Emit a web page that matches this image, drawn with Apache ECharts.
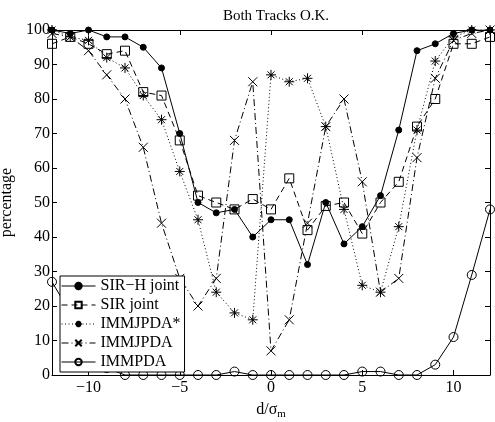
<!DOCTYPE html>
<html>
<head>
<meta charset="utf-8">
<script src="https://cdn.jsdelivr.net/npm/echarts@6/dist/echarts.min.js"></script>
<style>
html,body{margin:0;padding:0;background:#fff;}
#c{width:495px;height:422px;}
</style>
</head>
<body>
<div id="c"></div>
<script>
var xs = [-12,-11,-10,-9,-8,-7,-6,-5,-4,-3,-2,-1,0,1,2,3,4,5,6,7,8,9,10,11,12];
var sirH = [100,99,100,98,98,95,89,70,50,47,48,40,45,45,32,50,38,43,52,71,94,96,99,100,100];
var sirJoint = [96,98,96,93,94,82,81,68,52,50,48,51,48,57,42,49,50,41,50,56,72,80,96,96,98];
var immjpdaStar = [100,98,97,92,89,81,74,59,45,24,18,16,87,85,86,72,48,26,24,43,71,91,98,100,100];
var immjpda = [99,98,94,87,80,66,44,28,20,28,68,85,7,16,44,72,80,56,24,28,63,86,97,99,100];
var immpda = [27,18,7,2,0,0,0,0,0,0,1,0,0,0,0,0,0,1,1,0,0,3,11,29,48];
var xTicks = [-10,-5,0,5,10];
var seriesNames = ['SIR\u2212H joint','SIR joint','IMMJPDA*','IMMJPDA','IMMPDA'];
var titleText = 'Both Tracks O.K.';

function pts(arr){ return xs.map(function(x,i){ return [x, arr[i]]; }); }
var FONT = '"Liberation Serif","DejaVu Serif",serif';
var ASTER = 'path://M0,-5L0,5M-5,0L5,0M-3.5,-3.5L3.5,3.5M-3.5,3.5L3.5,-3.5';
var XMARK = 'path://M-1,-1L1,1M-1,1L1,-1';

function mk(name, data, symbol, size, fill, lineType){
  return {
    name: name, type: 'line', data: pts(data),
    symbol: symbol, symbolSize: size, showAllSymbol: true,
    symbolKeepAspect: true,
    lineStyle: {color:'#000', width:1, type: lineType},
    itemStyle: {color: fill, borderColor:'#000', borderWidth:1},
    emphasis: {disabled:true}
  };
}

var chart = echarts.init(document.getElementById('c'), null, {renderer:'canvas'});
var fmt = function(v){ return v < 0 ? '\u2212' + Math.abs(v) : String(v); };
chart.setOption({
  animation: false,
  backgroundColor: '#fff',
  title: {
    text: titleText, left: 271, top: 4, textAlign: 'center',
    textStyle: {fontFamily: FONT, fontSize: 15, fontWeight: 'normal', color:'#000'}
  },
  grid: {left: 52, right: 5, top: 30, bottom: 47, containLabel: false, outerBoundsMode: 'none'},
  legend: {
    orient: 'vertical', left: 60, top: 276,
    backgroundColor: '#fff', borderColor: '#000', borderWidth: 1,
    padding: [2, 4, 2, 1], itemGap: 3, itemWidth: 34, itemHeight: 8,
    lineStyle: {width: 1},
    textStyle: {fontFamily: FONT, fontSize: 16, lineHeight: 16, color:'#000'},
    data: seriesNames
  },
  xAxis: [{
    type: 'value', min: -12, max: 12, position: 'bottom',
    name: 'd/\u03c3{sub|m}', nameLocation: 'middle', nameGap: 24,
    nameTextStyle: {fontFamily: FONT, fontSize: 16, color:'#000',
      rich: {sub: {fontFamily: FONT, fontSize: 11, color:'#000', verticalAlign:'bottom', padding:[10,0,0,0]}}},
    axisLine: {show: true, onZero: false, lineStyle: {color:'#000', width: 1}},
    axisTick: {show: true, inside: true, length: 5, customValues: xTicks, lineStyle:{color:'#000'}},
    axisLabel: {customValues: xTicks, formatter: fmt, margin: 5, fontFamily: FONT, fontSize: 16, color:'#000'},
    splitLine: {show: false}
  },{
    type: 'value', min: -12, max: 12, position: 'top',
    axisLine: {show: true, onZero: false, lineStyle: {color:'#000', width: 1}},
    axisTick: {show: true, inside: true, length: 5, customValues: xTicks, lineStyle:{color:'#000'}},
    axisLabel: {show: false},
    splitLine: {show: false}
  }],
  yAxis: [{
    type: 'value', min: 0, max: 100, interval: 10, position: 'left',
    name: 'percentage', nameLocation: 'middle', nameGap: 35, nameRotate: 90,
    nameTextStyle: {fontFamily: FONT, fontSize: 16, color:'#000'},
    axisLine: {show: true, onZero: false, lineStyle: {color:'#000', width: 1}},
    axisTick: {show: true, inside: true, length: 5, lineStyle:{color:'#000'}},
    axisLabel: {margin: 2, fontFamily: FONT, fontSize: 16, color:'#000'},
    splitLine: {show: false}
  },{
    type: 'value', min: 0, max: 100, interval: 10, position: 'right',
    axisLine: {show: true, onZero: false, lineStyle: {color:'#000', width: 1}},
    axisTick: {show: true, inside: true, length: 5, lineStyle:{color:'#000'}},
    axisLabel: {show: false},
    splitLine: {show: false}
  }],
  series: [
    mk(seriesNames[0], sirH, 'circle', 6, '#000', 'solid'),
    mk(seriesNames[1], sirJoint, 'rect', 9, 'none', [6,4]),
    mk(seriesNames[2], immjpdaStar, ASTER, 10, 'none', [1,2.5]),
    mk(seriesNames[3], immjpda, XMARK, 9, 'none', [7,3,1,3]),
    mk(seriesNames[4], immpda, 'circle', 9, 'none', 'solid')
  ]
});
</script>
</body>
</html>
